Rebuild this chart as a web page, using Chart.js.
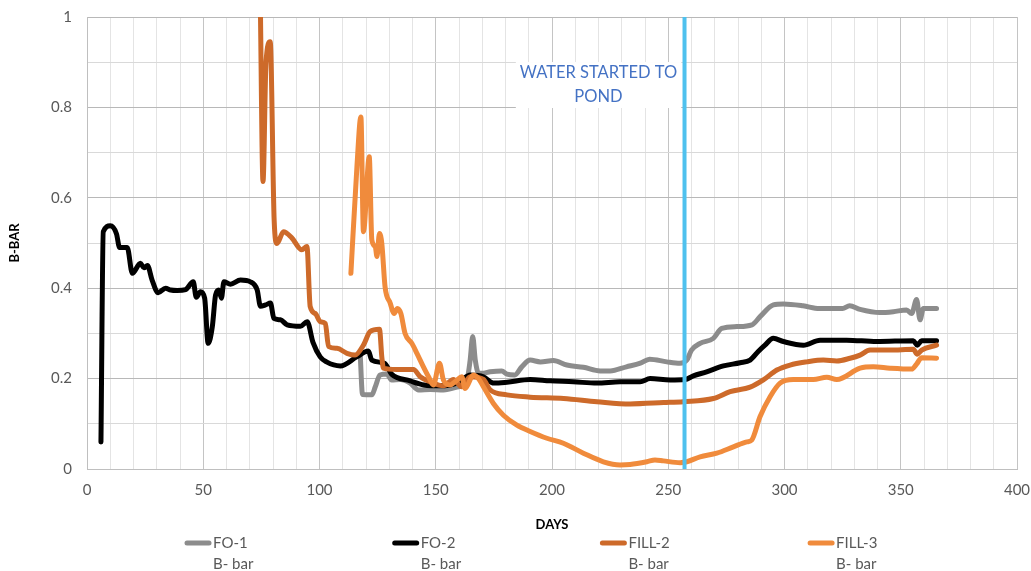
<!DOCTYPE html>
<html>
<head>
<meta charset="utf-8">
<title>B-BAR vs DAYS</title>
<script src="https://cdn.jsdelivr.net/npm/chart.js@4.4.1/dist/chart.umd.min.js"></script>
<style>
  html, body { margin: 0; padding: 0; background: #fff; }
  #wrap { width: 1031px; height: 571px; }
</style>
</head>
<body>
<div id="wrap"><canvas id="myChart" width="1031" height="571"></canvas></div>
<script>
// readings, day vs B-bar
const fo1Days = [117.5, 118.5, 122.5, 124, 126, 129, 131, 134.7, 139, 142.6, 147.6, 153.3, 159, 163.4, 164.8, 165.9, 167, 168.4, 170.5, 173.4, 178.4, 180.6, 184, 187, 190.6, 195, 200.6, 206.4, 213.5, 220.7, 225, 232, 238, 242, 249.4, 255, 258, 260, 263.7, 269.4, 273, 279.5, 286, 289.5, 295.2, 299.5, 308, 315, 325, 328, 332.5, 341, 346.8, 352.5, 354.7, 356.8, 358.3, 359.7, 365.4];
const fo1Vals = [0.255, 0.165, 0.164, 0.182, 0.208, 0.21, 0.197, 0.198, 0.19, 0.175, 0.176, 0.175, 0.181, 0.197, 0.241, 0.293, 0.241, 0.212, 0.212, 0.215, 0.217, 0.21, 0.208, 0.226, 0.241, 0.237, 0.24, 0.23, 0.225, 0.217, 0.217, 0.226, 0.234, 0.243, 0.237, 0.234, 0.241, 0.263, 0.278, 0.289, 0.311, 0.315, 0.319, 0.337, 0.363, 0.365, 0.361, 0.355, 0.355, 0.361, 0.353, 0.346, 0.348, 0.352, 0.344, 0.375, 0.33, 0.355, 0.355];

const fo2Days = [6, 7, 10, 12.7, 14, 17.3, 19.5, 23, 24.5, 26, 28, 30.6, 33.8, 36, 38.8, 42.4, 45.7, 47, 48.8, 50.6, 52.1, 53.9, 55.3, 56.7, 57.8, 58.9, 61.7, 66, 70.3, 73.2, 74.6, 76.8, 78.9, 80.4, 83.2, 86.1, 91.8, 94.7, 97.2, 100.3, 103, 109, 116, 121, 122.5, 128, 131, 139, 145, 152, 159, 165, 170.5, 175, 180.6, 190.6, 199.2, 209.2, 219.3, 229.3, 237.9, 242.2, 250.8, 257.2, 260.8, 266.5, 273.7, 280.9, 285.2, 288.7, 291.6, 295.2, 299.5, 308.1, 315.3, 326.7, 339.6, 355.4, 357.1, 359, 365.4];
const fo2Vals = [0.06, 0.525, 0.538, 0.52, 0.49, 0.49, 0.433, 0.455, 0.445, 0.45, 0.418, 0.39, 0.4, 0.396, 0.395, 0.397, 0.414, 0.38, 0.392, 0.378, 0.278, 0.315, 0.385, 0.396, 0.378, 0.414, 0.409, 0.418, 0.414, 0.396, 0.36, 0.363, 0.367, 0.333, 0.33, 0.319, 0.316, 0.326, 0.28, 0.248, 0.237, 0.228, 0.248, 0.261, 0.241, 0.234, 0.21, 0.195, 0.186, 0.184, 0.19, 0.208, 0.204, 0.19, 0.192, 0.198, 0.195, 0.193, 0.19, 0.193, 0.193, 0.2, 0.197, 0.198, 0.206, 0.215, 0.228, 0.235, 0.241, 0.26, 0.274, 0.289, 0.282, 0.274, 0.285, 0.285, 0.282, 0.284, 0.274, 0.284, 0.284];

const fill2Days = [74.5, 75.7, 77, 78.8, 80.5, 81.7, 84.5, 88, 92.4, 94.6, 96, 98.2, 100.3, 102.5, 103.9, 107.5, 111.8, 115.3, 118.9, 121.8, 125.8, 126.8, 127.5, 133.3, 140.4, 143.3, 147.6, 153.3, 157.6, 161.2, 164.8, 170.5, 173.4, 180.6, 190.6, 205, 219.3, 233.6, 248, 256.5, 269.4, 276.6, 285.2, 290.9, 296.7, 302.4, 309.6, 316.7, 322.5, 328.2, 332.5, 336.8, 345.4, 355.4, 357.1, 359, 365.4];
const fill2Vals = [1.05, 0.636, 0.9, 0.945, 0.55, 0.499, 0.525, 0.512, 0.485, 0.492, 0.359, 0.344, 0.326, 0.322, 0.271, 0.267, 0.256, 0.252, 0.274, 0.304, 0.309, 0.248, 0.223, 0.22, 0.22, 0.204, 0.193, 0.184, 0.198, 0.182, 0.204, 0.198, 0.175, 0.164, 0.159, 0.156, 0.149, 0.144, 0.147, 0.149, 0.156, 0.171, 0.181, 0.197, 0.219, 0.23, 0.237, 0.241, 0.239, 0.245, 0.252, 0.263, 0.263, 0.265, 0.254, 0.263, 0.274];

const fill3Days = [113.5, 116.1, 117.8, 118.9, 121.4, 122.5, 124, 124.7, 125.8, 126.8, 128.2, 130.4, 132.1, 133.5, 135, 136.8, 139.7, 141.9, 144.7, 146.9, 149, 151.6, 153.3, 156.2, 158.8, 161.2, 162.6, 166.2, 168.4, 170.5, 174.8, 179.1, 184.9, 190.6, 197.8, 204.9, 213.5, 222.1, 229.3, 233.6, 240.8, 244.3, 247.9, 255.1, 258, 263.7, 270.9, 278, 283.8, 285.9, 289.5, 293.8, 298.1, 303.8, 312.4, 318.2, 322.5, 332.5, 338.2, 345.4, 354.7, 356.8, 359, 365.4];
const fill3Vals = [0.433, 0.669, 0.779, 0.525, 0.691, 0.507, 0.492, 0.47, 0.521, 0.499, 0.403, 0.367, 0.344, 0.355, 0.344, 0.3, 0.278, 0.256, 0.226, 0.204, 0.186, 0.234, 0.197, 0.186, 0.195, 0.204, 0.178, 0.208, 0.2, 0.182, 0.145, 0.119, 0.097, 0.083, 0.068, 0.057, 0.035, 0.016, 0.009, 0.01, 0.016, 0.02, 0.018, 0.014, 0.016, 0.027, 0.035, 0.049, 0.06, 0.064, 0.116, 0.16, 0.19, 0.198, 0.198, 0.203, 0.198, 0.223, 0.226, 0.223, 0.221, 0.232, 0.246, 0.245];

const seriesNames = ['FO-1', 'FO-2', 'FILL-2', 'FILL-3'];
const seriesUnit = 'B- bar';
const seriesColors = ['#8C8C8C', '#000000', '#CD6A2A', '#F08B3C'];

const pondDay = 257;
const noteLines = ['WATER STARTED TO', 'POND'];
const noteDay = 220;
const noteVals = [0.876, 0.823];

function pts(days, vals) {
    return days.map((d, i) => ({ x: d, y: vals[i] }));
}

const FONT = "Lato, 'Open Sans', sans-serif";

// legend under the axis + the note box
const extras = {
    id: 'extras',
    afterDraw(chart) {
        const ctx = chart.ctx;
        const xs = chart.scales.x, ys = chart.scales.y;
        ctx.save();

        // note
        ctx.font = '16.5px ' + FONT;
        const cx = xs.getPixelForValue(noteDay);
        const y1 = ys.getPixelForValue(noteVals[0]);
        const y2 = ys.getPixelForValue(noteVals[1]);
        let w = 0;
        noteLines.forEach(t => { w = Math.max(w, ctx.measureText(t).width); });
        ctx.fillStyle = '#ffffff';
        ctx.fillRect(cx - w / 2 - 4, y1 - 11, w + 8, (y2 - y1) + 22);
        ctx.fillStyle = '#4472C4';
        ctx.textAlign = 'center';
        ctx.textBaseline = 'middle';
        ctx.fillText(noteLines[0], cx, y1);
        ctx.fillText(noteLines[1], cx, y2);

        // legend
        ctx.font = '15px ' + FONT;
        ctx.textAlign = 'left';
        ctx.lineCap = 'round';
        ctx.lineWidth = 5;
        seriesNames.forEach((name, i) => {
            const lx = 187 + i * 207.7;
            const ly = 543;
            ctx.strokeStyle = seriesColors[i];
            ctx.beginPath();
            ctx.moveTo(lx, ly);
            ctx.lineTo(lx + 22, ly);
            ctx.stroke();
            ctx.fillStyle = '#595959';
            ctx.fillText(name, lx + 26, ly);
            ctx.fillText(seriesUnit, lx + 26, ly + 21);
        });
        ctx.restore();
    }
};

const lineDataset = (i, days, vals, extra) => Object.assign({
    label: seriesNames[i],
    data: pts(days, vals),
    borderColor: seriesColors[i],
    backgroundColor: seriesColors[i],
    borderWidth: 5,
    pointRadius: 0,
    cubicInterpolationMode: 'monotone',
    borderJoinStyle: 'round',
    borderCapStyle: 'round',
    order: 4 - i
}, extra || {});

new Chart(document.getElementById('myChart').getContext('2d'), {
    type: 'line',
    data: {
        datasets: [
            lineDataset(0, fo1Days, fo1Vals),
            lineDataset(1, fo2Days, fo2Vals),
            lineDataset(2, fill2Days, fill2Vals, { clip: 0 }),
            lineDataset(3, fill3Days, fill3Vals),
            {
                label: 'pond',
                data: [{ x: pondDay, y: 0 }, { x: pondDay, y: 1 }],
                borderColor: '#4FC1EE',
                borderWidth: 4,
                pointRadius: 0,
                order: 0,
                clip: 0
            }
        ]
    },
    options: {
        responsive: false,
        animation: false,
        events: [],
        layout: { padding: { left: 0, right: 14, top: 17, bottom: 0 } },
        plugins: {
            legend: { display: false },
            tooltip: { enabled: false }
        },
        scales: {
            x: {
                type: 'linear',
                min: 0,
                max: 400,
                afterFit(scale) {
                    scale.height = 102;
                    scale.paddingLeft = 0;
                    scale.paddingRight = 0;
                },
                ticks: {
                    stepSize: 10,
                    padding: 12,
                    maxRotation: 0,
                    autoSkip: false,
                    color: '#595959',
                    font: { family: FONT, size: 15 },
                    callback: v => (v % 50 === 0 ? String(v) : '')
                },
                grid: {
                    drawTicks: false,
                    color: c => (c.tick.value % 50 === 0 ? '#C4C4C4' : '#E4E4E4')
                },
                border: { color: '#BFBFBF' },
                title: {
                    display: true,
                    text: 'DAYS',
                    color: '#000000',
                    font: { family: FONT, size: 13, weight: 'bold' },
                    padding: { top: 0, bottom: 38 }
                }
            },
            y: {
                min: 0,
                max: 1,
                afterFit(scale) {
                    scale.width = 87;
                    scale.paddingTop = 0;
                    scale.paddingBottom = 0;
                },
                ticks: {
                    stepSize: 0.1,
                    padding: 15,
                    autoSkip: false,
                    color: '#595959',
                    font: { family: FONT, size: 15 },
                    callback: v => (Math.round(v * 10) % 2 === 0 ? String(Math.round(v * 10) / 10) : '')
                },
                grid: {
                    drawTicks: false,
                    color: c => (Math.round(c.tick.value * 10) % 2 === 0 ? '#B8B8B8' : '#D9D9D9')
                },
                border: { color: '#BFBFBF' },
                title: {
                    display: true,
                    text: 'B-BAR',
                    color: '#000000',
                    font: { family: FONT, size: 13, weight: 'bold' },
                    padding: { top: 7, bottom: 0 }
                }
            }
        }
    },
    plugins: [extras]
});
</script>
</body>
</html>
